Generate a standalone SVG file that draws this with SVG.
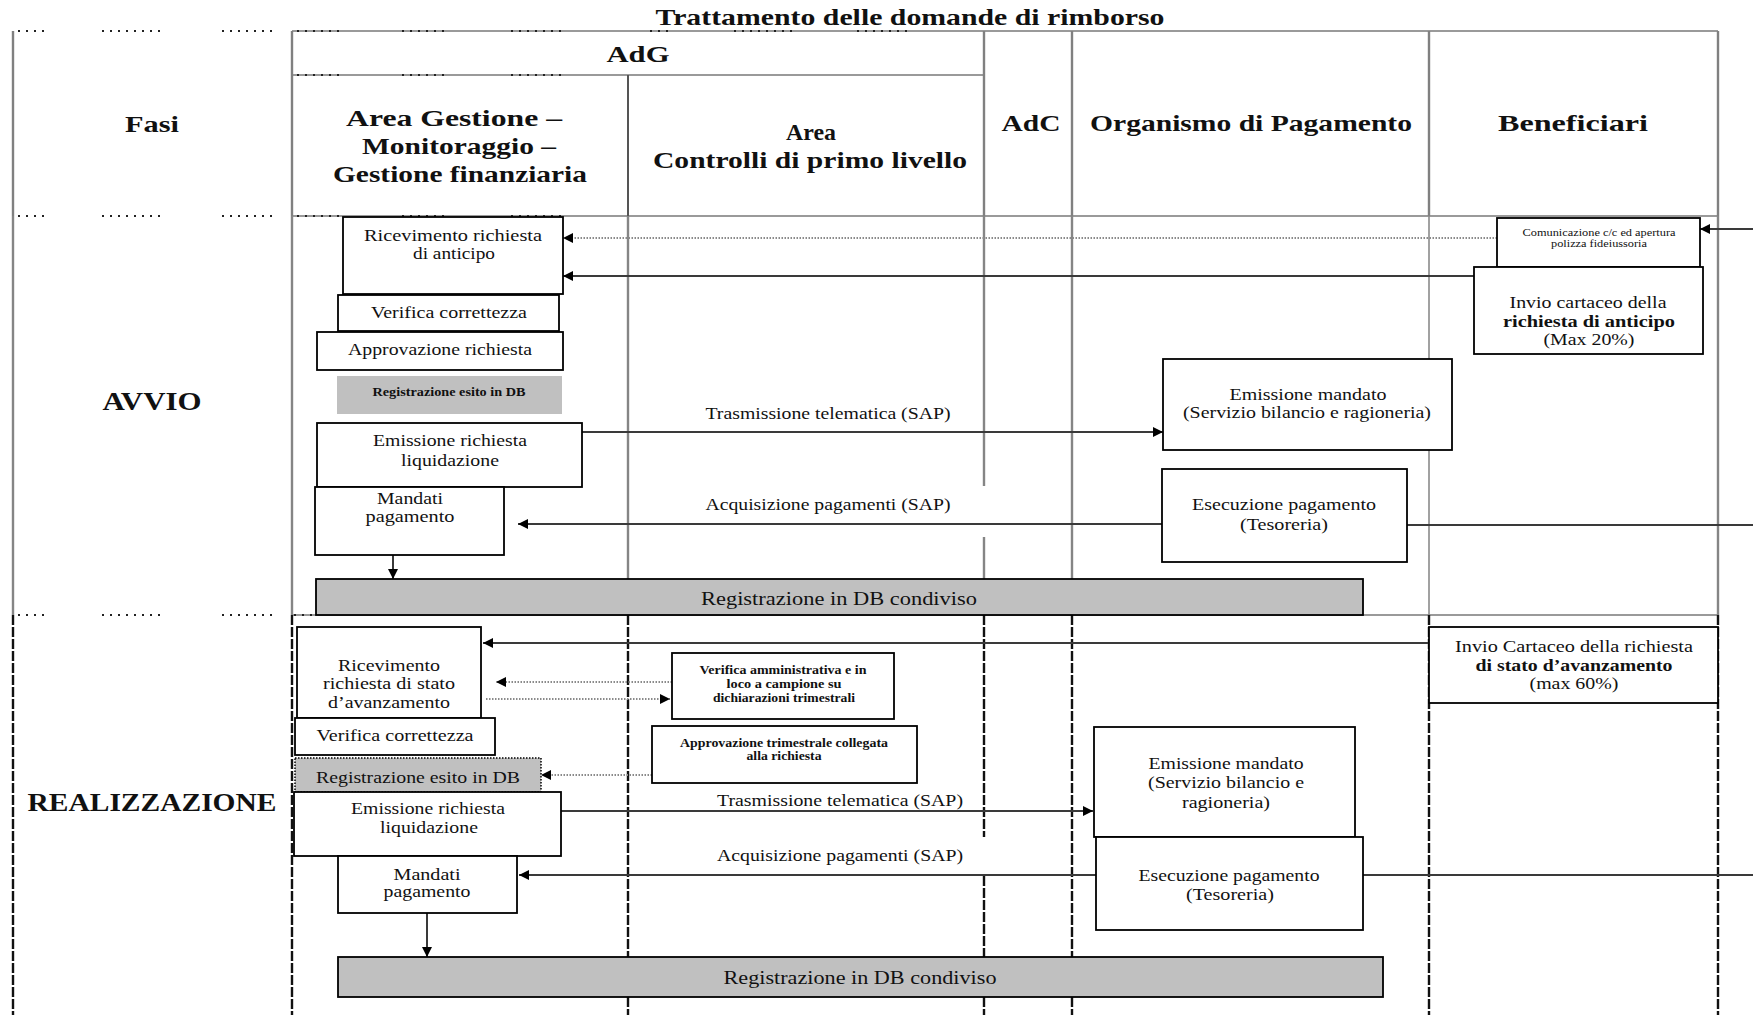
<svg xmlns="http://www.w3.org/2000/svg" width="1753" height="1015" viewBox="0 0 1753 1015">
  <style>
    .t { font-family: "Liberation Serif", "Times New Roman", serif; font-size: 17px; fill: #111; text-anchor: middle; }
    .h { font-weight: bold; font-size: 23px; }
    .b { font-weight: bold; }
    .sm { font-size: 12.5px; font-weight: bold; }
    .xs { font-size: 10px; }
    .db { font-size: 18px; }
    .box { fill: #fff; stroke: #000; stroke-width: 1.8; }
    .gbox { fill: #c0c0c0; stroke: #000; stroke-width: 1.8; }
    .gflat { fill: #c0c0c0; stroke: none; }
    .gdot { fill: #c0c0c0; stroke: #000; stroke-width: 1.5; stroke-dasharray: 1.5 1.5; }
    .hl { stroke: #9a9a9a; stroke-width: 2; fill: none; }
    .vh { stroke: #808080; stroke-width: 2.4; fill: none; }
    .va { stroke: #858585; stroke-width: 2.4; fill: none; }
    .vr { stroke: #111; stroke-width: 2.4; stroke-dasharray: 10 2; fill: none; }
    .marks { stroke: #222; stroke-width: 2; stroke-dasharray: 2 6; fill: none; }
    .conn { stroke: #3a3a3a; stroke-width: 2; fill: none; }
    .dot { stroke: #8a8a8a; stroke-width: 1.8; stroke-dasharray: 1.5 1.5; fill: none; }
  </style>
  <defs>
    <marker id="arr" viewBox="0 0 10 10" refX="10" refY="5" markerWidth="13" markerHeight="10" markerUnits="userSpaceOnUse" orient="auto">
      <path d="M0,0 L10,5 L0,10 z" fill="#000"/>
    </marker>
  </defs>

  <rect width="1753" height="1015" fill="#fff"/>

  <!-- table grid -->
  <g id="grid">
    <!-- horizontal rules -->
    <line class="hl" x1="292" y1="31" x2="984" y2="31"/>
    <line class="hl" x1="984" y1="31" x2="1718" y2="31" stroke="#7a7a7a"/>
    <line class="hl" x1="292" y1="75" x2="984" y2="75" stroke="#b0b0b0"/>
    <line class="hl" x1="292" y1="216" x2="1718" y2="216"/>
    <line class="hl" x1="292" y1="615" x2="1718" y2="615"/>

    <!-- dotted marks along the rules -->
    <path class="marks" d="M18,31 H44 M102,31 H164 M222,31 H275 M18,216 H44 M102,216 H164 M222,216 H275 M18,615 H44 M102,615 H164 M222,615 H275"/>
    <path class="marks" d="M297,31 H341 M402,31 H450 M511,31 H561 M650,31 H668 M734,31 H796 M857,31 H910"/>
    <path class="marks" d="M297,75 H341 M402,75 H450 M511,75 H561"/>
    <path class="marks" d="M297,216 H341 M402,216 H450 M511,216 H561"/>
    <path class="marks" d="M294,615 H316"/>

    <!-- vertical rules: header band -->
    <path class="vh" d="M13,31 V216 M292,31 V216 M984,31 V216 M1072,31 V216 M1429,31 V216 M1718,31 V216"/>
    <line x1="628" y1="75" x2="628" y2="216" stroke="#555" stroke-width="2"/>
    <!-- vertical rules: AVVIO band -->
    <path class="va" d="M13,216 V615 M292,216 V615 M628,216 V579 M984,216 V486 M984,537 V579 M1072,216 V579 M1718,216 V615"/>
    <line x1="1429" y1="216" x2="1429" y2="615" stroke="#8a8a8a" stroke-width="1.6"/>
    <!-- vertical rules: REALIZZAZIONE band -->
    <path class="vr" d="M13,615 V1015 M292,615 V1015 M628,615 V957 M628,997 V1015 M984,615 V837 M984,876 V957 M984,997 V1015 M1072,615 V957 M1072,997 V1015 M1718,615 V1015"/>
    <path class="vr" d="M1429,615 V1015" stroke="#444"/>
  </g>

  <!-- headings -->
  <g id="headings">
    <text class="t h" x="910" y="25" textLength="509" lengthAdjust="spacingAndGlyphs">Trattamento delle domande di rimborso</text>
    <text class="t h" x="638" y="62" textLength="63" lengthAdjust="spacingAndGlyphs">AdG</text>
    <text class="t h" x="152" y="132" textLength="54" lengthAdjust="spacingAndGlyphs">Fasi</text>
    <text class="t h" x="454" y="126" textLength="216" lengthAdjust="spacingAndGlyphs">Area Gestione –</text>
    <text class="t h" x="459" y="154" textLength="194" lengthAdjust="spacingAndGlyphs">Monitoraggio –</text>
    <text class="t h" x="460" y="182" textLength="254" lengthAdjust="spacingAndGlyphs">Gestione finanziaria</text>
    <text class="t h" x="811" y="140" textLength="50" lengthAdjust="spacingAndGlyphs">Area</text>
    <text class="t h" x="810" y="168" textLength="314" lengthAdjust="spacingAndGlyphs">Controlli di primo livello</text>
    <text class="t h" x="1031" y="131" textLength="59" lengthAdjust="spacingAndGlyphs">AdC</text>
    <text class="t h" x="1251" y="131" textLength="322" lengthAdjust="spacingAndGlyphs">Organismo di Pagamento</text>
    <text class="t h" x="1573" y="131" textLength="150" lengthAdjust="spacingAndGlyphs">Beneficiari</text>
    <text class="t h" x="152" y="410" style="font-size:25px" textLength="99" lengthAdjust="spacingAndGlyphs">AVVIO</text>
    <text class="t h" x="152" y="811" style="font-size:26px" textLength="249" lengthAdjust="spacingAndGlyphs">REALIZZAZIONE</text>
  </g>

  <!-- connectors -->
  <g id="connectors">
    <path class="dot" d="M1497,238 H563" marker-end="url(#arr)"/>
    <path class="conn" d="M1474,276 H563" marker-end="url(#arr)"/>
    <path class="conn" d="M1753,229 H1700" marker-end="url(#arr)"/>
    <path class="conn" d="M582,432 H1163" marker-end="url(#arr)"/>
    <path class="conn" d="M1162,524 H518" marker-end="url(#arr)"/>
    <path class="conn" d="M1407,525 H1753"/>
    <path class="conn" d="M393,555 V579" marker-end="url(#arr)"/>

    <path class="conn" d="M1429,643 H483" marker-end="url(#arr)"/>
    <path class="dot" d="M672,682 H496" marker-end="url(#arr)"/>
    <path class="dot" d="M486,699 H670" marker-end="url(#arr)"/>
    <path class="dot" d="M652,775 H541" marker-end="url(#arr)"/>
    <path class="conn" d="M561,811 H1093" marker-end="url(#arr)"/>
    <path class="conn" d="M1096,875 H519" marker-end="url(#arr)"/>
    <path class="conn" d="M1363,875 H1753"/>
    <path class="conn" d="M427,913 V957" marker-end="url(#arr)"/>
  </g>

  <!-- connector labels -->
  <g id="labels">
    <text class="t" x="828" y="419" textLength="245" lengthAdjust="spacingAndGlyphs">Trasmissione telematica (SAP)</text>
    <text class="t" x="828" y="510" textLength="245" lengthAdjust="spacingAndGlyphs">Acquisizione pagamenti (SAP)</text>
    <text class="t" x="840" y="806" textLength="246" lengthAdjust="spacingAndGlyphs">Trasmissione telematica (SAP)</text>
    <text class="t" x="840" y="861" textLength="246" lengthAdjust="spacingAndGlyphs">Acquisizione pagamenti (SAP)</text>
  </g>

  <!-- AVVIO: AdG / Area Gestione -->
  <g id="avvio-ricevimento">
    <rect class="box" x="343" y="217" width="220" height="77"/>
    <text class="t" x="453" y="241" textLength="178" lengthAdjust="spacingAndGlyphs">Ricevimento richiesta</text>
    <text class="t" x="454" y="259" textLength="82" lengthAdjust="spacingAndGlyphs">di anticipo</text>
  </g>
  <g id="avvio-verifica">
    <rect class="box" x="338" y="295" width="221" height="36"/>
    <text class="t" x="449" y="318" textLength="156" lengthAdjust="spacingAndGlyphs">Verifica correttezza</text>
  </g>
  <g id="avvio-approvazione">
    <rect class="box" x="317" y="332" width="246" height="38"/>
    <text class="t" x="440" y="355" textLength="184" lengthAdjust="spacingAndGlyphs">Approvazione richiesta</text>
  </g>
  <g id="avvio-registrazione">
    <rect class="gflat" x="337" y="376" width="225" height="38"/>
    <text class="t sm" x="449" y="396" textLength="153" lengthAdjust="spacingAndGlyphs">Registrazione esito in DB</text>
  </g>
  <g id="avvio-emissione-richiesta">
    <rect class="box" x="317" y="423" width="265" height="64"/>
    <text class="t" x="450" y="446" textLength="154" lengthAdjust="spacingAndGlyphs">Emissione richiesta</text>
    <text class="t" x="450" y="466" textLength="98" lengthAdjust="spacingAndGlyphs">liquidazione</text>
  </g>
  <g id="avvio-mandati">
    <rect class="box" x="315" y="487" width="189" height="68"/>
    <text class="t" x="410" y="504" textLength="66" lengthAdjust="spacingAndGlyphs">Mandati</text>
    <text class="t" x="410" y="522" textLength="89" lengthAdjust="spacingAndGlyphs">pagamento</text>
  </g>
  <g id="avvio-db">
    <rect class="gbox" x="316" y="579" width="1047" height="36"/>
    <text class="t db" x="839" y="605" textLength="276" lengthAdjust="spacingAndGlyphs">Registrazione in DB condiviso</text>
  </g>

  <!-- AVVIO: Organismo di Pagamento -->
  <g id="avvio-emissione-mandato">
    <rect class="box" x="1163" y="359" width="289" height="91"/>
    <text class="t" x="1308" y="400" textLength="157" lengthAdjust="spacingAndGlyphs">Emissione mandato</text>
    <text class="t" x="1307" y="418" textLength="248" lengthAdjust="spacingAndGlyphs">(Servizio bilancio e ragioneria)</text>
  </g>
  <g id="avvio-esecuzione">
    <rect class="box" x="1162" y="469" width="245" height="93"/>
    <text class="t" x="1284" y="510" textLength="184" lengthAdjust="spacingAndGlyphs">Esecuzione pagamento</text>
    <text class="t" x="1284" y="530" textLength="88" lengthAdjust="spacingAndGlyphs">(Tesoreria)</text>
  </g>

  <!-- AVVIO: Beneficiari -->
  <g id="avvio-comunicazione">
    <rect class="box" x="1497" y="218" width="203" height="49"/>
    <text class="t xs" x="1599" y="236" textLength="153" lengthAdjust="spacingAndGlyphs">Comunicazione c/c ed apertura</text>
    <text class="t xs" x="1599" y="247" textLength="96" lengthAdjust="spacingAndGlyphs">polizza fideiussoria</text>
  </g>
  <g id="avvio-invio">
    <rect class="box" x="1474" y="267" width="229" height="87"/>
    <text class="t" x="1588" y="308" textLength="157" lengthAdjust="spacingAndGlyphs">Invio cartaceo della</text>
    <text class="t b" x="1589" y="327" textLength="172" lengthAdjust="spacingAndGlyphs">richiesta di anticipo</text>
    <text class="t" x="1589" y="345" textLength="91" lengthAdjust="spacingAndGlyphs">(Max 20%)</text>
  </g>

  <!-- REALIZZAZIONE: AdG / Area Gestione -->
  <g id="real-ricevimento">
    <rect class="box" x="297" y="627" width="184" height="91"/>
    <text class="t" x="389" y="671" textLength="102" lengthAdjust="spacingAndGlyphs">Ricevimento</text>
    <text class="t" x="389" y="689" textLength="132" lengthAdjust="spacingAndGlyphs">richiesta di stato</text>
    <text class="t" x="389" y="708" textLength="122" lengthAdjust="spacingAndGlyphs">d’avanzamento</text>
  </g>
  <g id="real-verifica">
    <rect class="box" x="295" y="718" width="200" height="37"/>
    <text class="t" x="395" y="741" textLength="157" lengthAdjust="spacingAndGlyphs">Verifica correttezza</text>
  </g>
  <g id="real-registrazione">
    <rect class="gdot" x="295" y="758" width="246" height="34"/>
    <text class="t" x="418" y="783" textLength="204" lengthAdjust="spacingAndGlyphs">Registrazione esito in DB</text>
  </g>
  <g id="real-emissione-richiesta">
    <rect class="box" x="294" y="792" width="267" height="64"/>
    <text class="t" x="428" y="814" textLength="154" lengthAdjust="spacingAndGlyphs">Emissione richiesta</text>
    <text class="t" x="429" y="833" textLength="98" lengthAdjust="spacingAndGlyphs">liquidazione</text>
  </g>
  <g id="real-mandati">
    <rect class="box" x="338" y="856" width="179" height="57"/>
    <text class="t" x="427" y="880" textLength="67" lengthAdjust="spacingAndGlyphs">Mandati</text>
    <text class="t" x="427" y="897" textLength="87" lengthAdjust="spacingAndGlyphs">pagamento</text>
  </g>
  <g id="real-db">
    <rect class="gbox" x="338" y="957" width="1045" height="40"/>
    <text class="t db" x="860" y="984" textLength="273" lengthAdjust="spacingAndGlyphs">Registrazione in DB condiviso</text>
  </g>

  <!-- REALIZZAZIONE: Area Controlli di primo livello -->
  <g id="real-verifica-amm">
    <rect class="box" x="672" y="653" width="222" height="66"/>
    <text class="t sm" x="783" y="674" textLength="167" lengthAdjust="spacingAndGlyphs">Verifica amministrativa e in</text>
    <text class="t sm" x="784" y="688" textLength="115" lengthAdjust="spacingAndGlyphs">loco a campione su</text>
    <text class="t sm" x="784" y="702" textLength="142" lengthAdjust="spacingAndGlyphs">dichiarazioni trimestrali</text>
  </g>
  <g id="real-approvazione-trim">
    <rect class="box" x="652" y="726" width="265" height="57"/>
    <text class="t sm" x="784" y="747" textLength="208" lengthAdjust="spacingAndGlyphs">Approvazione trimestrale collegata</text>
    <text class="t sm" x="784" y="760" textLength="75" lengthAdjust="spacingAndGlyphs">alla richiesta</text>
  </g>

  <!-- REALIZZAZIONE: Organismo di Pagamento -->
  <g id="real-emissione-mandato">
    <rect class="box" x="1094" y="727" width="261" height="110"/>
    <text class="t" x="1226" y="769" textLength="155" lengthAdjust="spacingAndGlyphs">Emissione mandato</text>
    <text class="t" x="1226" y="788" textLength="156" lengthAdjust="spacingAndGlyphs">(Servizio bilancio e</text>
    <text class="t" x="1226" y="808" textLength="88" lengthAdjust="spacingAndGlyphs">ragioneria)</text>
  </g>
  <g id="real-esecuzione">
    <rect class="box" x="1096" y="837" width="267" height="93"/>
    <text class="t" x="1229" y="881" textLength="181" lengthAdjust="spacingAndGlyphs">Esecuzione pagamento</text>
    <text class="t" x="1230" y="900" textLength="88" lengthAdjust="spacingAndGlyphs">(Tesoreria)</text>
  </g>

  <!-- REALIZZAZIONE: Beneficiari -->
  <g id="real-invio">
    <rect class="box" x="1429" y="627" width="289" height="76"/>
    <text class="t" x="1574" y="652" textLength="238" lengthAdjust="spacingAndGlyphs">Invio Cartaceo della richiesta</text>
    <text class="t b" x="1574" y="671" textLength="197" lengthAdjust="spacingAndGlyphs">di stato d’avanzamento</text>
    <text class="t" x="1574" y="689" textLength="89" lengthAdjust="spacingAndGlyphs">(max 60%)</text>
  </g>
</svg>
